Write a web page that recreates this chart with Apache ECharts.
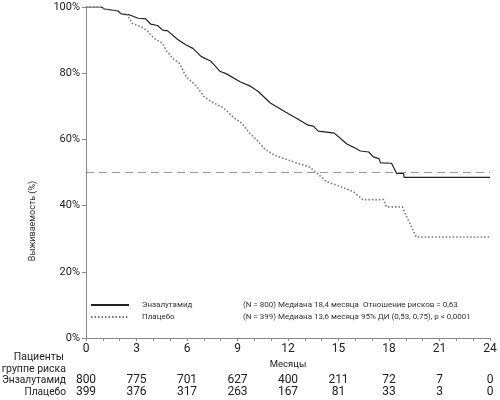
<!DOCTYPE html>
<html><head><meta charset="utf-8">
<script src="https://cdn.jsdelivr.net/npm/echarts@6/dist/echarts.min.js"></script>
<style>html,body{margin:0;padding:0;background:#fff}#c{width:500px;height:400px}</style>
</head><body><div id="c"></div>
<script>
// Kaplan–Meier curves: [month, survival %]
const enzaCurve = [[0,100],[0.9,100],[1.1,99.4],[1.9,98.8],[2.1,97.9],[2.6,97.6],[3.1,96.6],[3.55,96.4],[3.85,94.8],[4.25,94.4],[4.55,93.0],[4.85,92.8],[5.45,90.2],[5.95,88.5],[6.35,87.5],[6.85,85.0],[7.4,83.7],[7.95,80.6],[8.35,79.8],[9.15,77.4],[9.75,76.1],[10.25,74.4],[10.95,71.0],[11.8,68.4],[12.5,66.4],[13.2,64.3],[13.5,64.0],[13.8,62.5],[14.75,61.9],[15.5,58.6],[15.9,57.6],[16.0,57.0],[16.3,56.5],[16.8,56.2],[17.07,54.7],[17.4,54.2],[17.5,52.9],[18.15,52.8],[18.3,51.3],[18.45,49.7],[18.87,49.7],[18.9,48.5],[24,48.5]];
const placeboCurve = [[0,100],[0.9,100],[1.1,99.4],[1.9,98.8],[2.1,97.9],[2.45,97.6],[2.75,95.0],[3.25,94.1],[3.65,92.8],[4.05,90.5],[4.55,89.0],[4.75,87.0],[5.15,84.5],[5.55,83.0],[5.95,78.9],[6.55,76.2],[7.0,73.0],[7.45,71.4],[8.2,69.4],[8.75,66.7],[9.25,64.9],[9.7,62.0],[10.15,59.8],[10.6,57.2],[11.2,55.2],[12.1,53.6],[12.95,52.2],[13.3,51.6],[13.7,49.9],[14.3,47.2],[15.1,45.8],[15.9,44.2],[16.45,41.8],[17.67,41.8],[17.85,39.6],[18.8,39.6],[19.0,37.2],[19.25,34.5],[19.55,31.2],[19.62,30.5],[24,30.5]];
const medianLevel = 50;
const xRange = [0, 24];
const riskMonths = [0,3,6,9,12,15,18,21,24];
const enzaRisk = [800,775,701,627,400,211,72,7,0];
const placeboRisk = [399,376,317,263,167,81,33,3,0];
const seriesNames = ['Энзалутамид','Плацебо'];
const legendStats = ['(N = 800) Медиана 18,4 месяца  Отношение рисков = 0,63','(N = 399) Медиана 13,6 месяца 95% ДИ (0,53, 0,75), p < 0,0001'];

const FONT = 'Roboto';
const chart = echarts.init(document.getElementById('c'), null, {renderer:'canvas'});
const riskAxis = (vals, name, offset) => ({
  type:'value', min:xRange[0], max:xRange[1], interval:3, position:'bottom', offset:offset,
  axisLine:{show:false}, axisTick:{show:false}, splitLine:{show:false},
  axisLabel:{margin:0, verticalAlign:'middle', fontSize:12, color:'#222', fontFamily:FONT,
    formatter:v => { const i = riskMonths.indexOf(v); return i >= 0 ? String(vals[i]) : ''; }},
  name:name, nameLocation:'start', nameGap:20,
  nameTextStyle:{fontSize:10.2, color:'#222', fontFamily:FONT, align:'right', verticalAlign:'middle'}
});
const statsMap = {}; seriesNames.forEach((n,i)=>statsMap[n]=legendStats[i]);
chart.setOption({
  animation:false,
  grid:{left:86, right:10, top:7, bottom:62, containLabel:false, outerBoundsMode:'none'},
  legend:{
    orient:'vertical', left:90, top:301, padding:0, itemWidth:38, itemHeight:8, itemGap:4,
    data:seriesNames, selectedMode:false,
    itemStyle:{opacity:0, borderWidth:0},
    formatter: n => '{a|' + n + '}{b|' + statsMap[n] + '}',
    textStyle:{fontFamily:FONT, fontSize:8, color:'#333',
      rich:{a:{width:101, padding:[0,0,0,8], fontSize:8, fontFamily:FONT, color:'#333'}, b:{fontSize:8, fontFamily:FONT, color:'#333'}}}
  },
  xAxis:[
    {type:'value', min:xRange[0], max:xRange[1], interval:3,
     axisLine:{lineStyle:{color:'#888', width:1}},
     axisTick:{lineStyle:{color:'#888'}, length:3},
     minorTick:{show:true, splitNumber:3, length:3, lineStyle:{color:'#888'}},
     splitLine:{show:false},
     axisLabel:{fontSize:12, color:'#222', fontFamily:FONT, margin:5},
     name:'Месяцы', nameLocation:'middle', nameGap:21,
     nameTextStyle:{fontSize:9.5, color:'#222', fontFamily:FONT}},
    riskAxis(enzaRisk, seriesNames[0], 42),
    riskAxis(placeboRisk, seriesNames[1], 54)
  ],
  yAxis:{type:'value', min:0, max:100, interval:20,
    axisLine:{show:true, lineStyle:{color:'#888'}},
    axisTick:{show:true, length:4, lineStyle:{color:'#888'}},
    splitLine:{show:false},
    axisLabel:{formatter:'{value}%', fontSize:11, color:'#222', fontFamily:FONT, margin:6}},
  graphic:[
    {type:'text', x:33, y:221, rotation:Math.PI/2, style:{text:'Выживаемость (%)', font:'9px Roboto', fill:'#333', textAlign:'center', textVerticalAlign:'middle'}},
    {type:'text', x:64, y:357, style:{text:'Пациенты', font:'10.5px Roboto', fill:'#222', textAlign:'right', textVerticalAlign:'middle'}},
    {type:'text', x:66, y:369, style:{text:'в группе риска', font:'10.5px Roboto', fill:'#222', textAlign:'right', textVerticalAlign:'middle'}}
  ],
  series:[
    {name:seriesNames[0], type:'line', data:enzaCurve, showSymbol:false, symbol:'none',
     lineStyle:{color:'#222', width:1.2, type:'solid'}, itemStyle:{color:'#222'}},
    {name:seriesNames[1], type:'line', data:placeboCurve, showSymbol:false, symbol:'none',
     lineStyle:{color:'#777', width:1.6, type:[1.5,2]}, itemStyle:{color:'#777'}},
    {name:'median', type:'line', data:[[xRange[0],medianLevel],[xRange[1],medianLevel]], showSymbol:false, symbol:'none',
     lineStyle:{color:'#999', width:1.2, type:[8,5]}, silent:true}
  ]
});
</script></body></html>
